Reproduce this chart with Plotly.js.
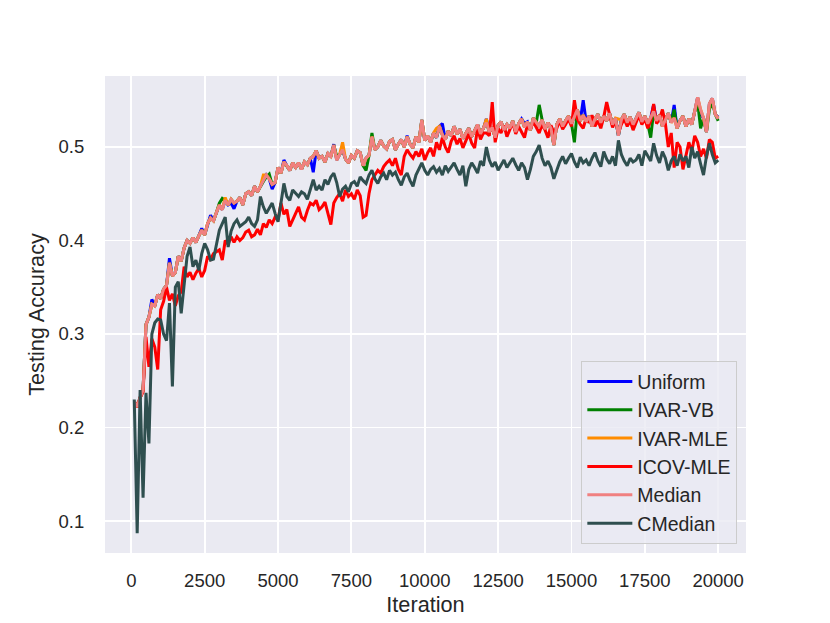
<!DOCTYPE html>
<html>
<head>
<meta charset="utf-8">
<script src="https://cdn.plot.ly/plotly-3.0.1.min.js"></script>
<style>html,body{margin:0;padding:0;background:#fff;}#chart{width:830px;height:623px;}</style>
</head>
<body>
<div id="chart"></div>
<script>
// Iterations: 100, 200, ..., 20000
var iterations = [];
for (var it = 100; it <= 20000; it += 100) iterations.push(it);

var seriesNames = ["Uniform", "IVAR-VB", "IVAR-MLE", "ICOV-MLE", "Median", "CMedian"];
var seriesColors = ["#0000ff", "#008000", "#ff8c00", "#ff0000", "#f08080", "#2f4f4f"];

var uniform = [
0.228,0.222,0.232,0.240,0.310,0.318,0.337,0.330,0.342,0.338,
0.348,0.352,0.381,0.362,0.366,0.383,0.378,0.392,0.400,0.397,
0.403,0.398,0.405,0.413,0.406,0.418,0.427,0.421,0.430,0.438,
0.433,0.443,0.438,0.440,0.434,0.442,0.446,0.438,0.450,0.452,
0.448,0.458,0.452,0.458,0.463,0.470,0.466,0.455,0.462,0.478,
0.472,0.486,0.480,0.475,0.483,0.478,0.483,0.476,0.484,0.481,
0.488,0.473,0.496,0.488,0.490,0.484,0.493,0.490,0.503,0.486,
0.492,0.497,0.487,0.483,0.491,0.488,0.496,0.494,0.480,0.488,
0.491,0.511,0.497,0.500,0.507,0.501,0.498,0.506,0.508,0.497,
0.503,0.508,0.500,0.512,0.503,0.499,0.511,0.505,0.529,0.507,
0.512,0.505,0.515,0.510,0.522,0.525,0.508,0.517,0.512,0.522,
0.514,0.519,0.509,0.515,0.520,0.511,0.518,0.524,0.514,0.520,
0.530,0.516,0.521,0.510,0.523,0.527,0.518,0.524,0.520,0.528,
0.516,0.525,0.530,0.525,0.527,0.518,0.531,0.526,0.522,0.529,
0.519,0.526,0.520,0.502,0.524,0.530,0.522,0.528,0.533,0.525,
0.532,0.540,0.528,0.550,0.527,0.533,0.522,0.530,0.535,0.526,
0.533,0.528,0.536,0.524,0.531,0.512,0.529,0.535,0.526,0.532,
0.524,0.530,0.537,0.527,0.533,0.525,0.531,0.545,0.528,0.534,
0.522,0.529,0.536,0.526,0.545,0.520,0.528,0.533,0.522,0.530,
0.524,0.538,0.553,0.535,0.531,0.516,0.546,0.552,0.535,0.532
];

var ivarVB = [
0.228,0.222,0.232,0.240,0.310,0.318,0.332,0.330,0.342,0.338,
0.348,0.352,0.376,0.362,0.366,0.383,0.378,0.392,0.400,0.397,
0.403,0.398,0.405,0.411,0.406,0.418,0.424,0.421,0.430,0.440,
0.445,0.443,0.438,0.444,0.440,0.442,0.446,0.438,0.450,0.452,
0.448,0.458,0.452,0.458,0.463,0.468,0.471,0.460,0.462,0.478,
0.472,0.484,0.480,0.475,0.483,0.478,0.483,0.476,0.484,0.481,
0.488,0.490,0.496,0.488,0.490,0.484,0.493,0.490,0.502,0.490,
0.492,0.497,0.487,0.483,0.491,0.488,0.496,0.494,0.480,0.475,
0.491,0.515,0.497,0.500,0.507,0.501,0.498,0.506,0.508,0.497,
0.503,0.508,0.500,0.511,0.503,0.499,0.511,0.505,0.529,0.507,
0.512,0.505,0.515,0.510,0.522,0.513,0.508,0.517,0.512,0.522,
0.514,0.519,0.509,0.515,0.520,0.511,0.518,0.524,0.514,0.520,
0.526,0.516,0.521,0.510,0.523,0.527,0.518,0.524,0.520,0.528,
0.516,0.525,0.530,0.521,0.527,0.518,0.531,0.526,0.545,0.529,
0.519,0.526,0.520,0.502,0.524,0.530,0.522,0.528,0.533,0.525,
0.505,0.540,0.528,0.534,0.527,0.533,0.522,0.530,0.535,0.526,
0.533,0.528,0.536,0.524,0.531,0.512,0.529,0.535,0.526,0.532,
0.524,0.530,0.537,0.527,0.533,0.525,0.510,0.538,0.528,0.534,
0.522,0.529,0.536,0.526,0.540,0.520,0.528,0.533,0.522,0.530,
0.524,0.538,0.548,0.520,0.531,0.516,0.540,0.548,0.535,0.528
];

var ivarMLE = [
0.228,0.222,0.232,0.240,0.310,0.318,0.332,0.330,0.342,0.338,
0.348,0.352,0.376,0.362,0.366,0.383,0.378,0.392,0.400,0.397,
0.403,0.398,0.405,0.411,0.406,0.418,0.424,0.421,0.430,0.438,
0.433,0.446,0.438,0.444,0.440,0.442,0.446,0.438,0.450,0.452,
0.448,0.458,0.452,0.458,0.470,0.470,0.466,0.460,0.462,0.478,
0.472,0.484,0.480,0.475,0.483,0.478,0.483,0.476,0.484,0.481,
0.488,0.490,0.496,0.488,0.490,0.484,0.493,0.490,0.502,0.486,
0.492,0.505,0.487,0.483,0.491,0.488,0.496,0.494,0.480,0.488,
0.491,0.511,0.497,0.500,0.507,0.501,0.498,0.506,0.508,0.497,
0.503,0.508,0.500,0.511,0.503,0.499,0.511,0.505,0.529,0.507,
0.512,0.505,0.515,0.520,0.522,0.513,0.508,0.517,0.512,0.522,
0.514,0.519,0.509,0.515,0.520,0.511,0.518,0.524,0.514,0.520,
0.530,0.516,0.521,0.510,0.523,0.527,0.518,0.524,0.520,0.528,
0.516,0.525,0.530,0.521,0.527,0.518,0.531,0.526,0.522,0.529,
0.519,0.526,0.520,0.502,0.524,0.530,0.522,0.528,0.533,0.525,
0.532,0.540,0.528,0.534,0.527,0.533,0.522,0.530,0.535,0.526,
0.533,0.528,0.536,0.524,0.531,0.530,0.529,0.535,0.526,0.532,
0.524,0.530,0.537,0.527,0.533,0.525,0.531,0.538,0.528,0.534,
0.522,0.529,0.536,0.526,0.531,0.520,0.528,0.533,0.522,0.530,
0.524,0.538,0.553,0.540,0.531,0.516,0.546,0.552,0.535,0.531
];

var icovMLE = [
0.228,0.222,0.232,0.238,0.297,0.265,0.295,0.286,0.262,0.326,
0.335,0.350,0.336,0.343,0.330,0.341,0.345,0.372,0.361,0.366,
0.358,0.365,0.370,0.361,0.368,0.383,0.380,0.386,0.388,0.390,
0.379,0.400,0.396,0.404,0.398,0.404,0.400,0.403,0.409,0.411,
0.404,0.406,0.412,0.406,0.418,0.414,0.422,0.418,0.425,0.422,
0.440,0.428,0.433,0.415,0.422,0.430,0.436,0.425,0.422,0.432,
0.440,0.438,0.443,0.433,0.436,0.441,0.428,0.417,0.440,0.446,
0.450,0.442,0.454,0.447,0.450,0.444,0.454,0.448,0.425,0.427,
0.450,0.465,0.470,0.475,0.472,0.479,0.483,0.486,0.480,0.488,
0.476,0.470,0.490,0.497,0.492,0.488,0.495,0.490,0.498,0.486,
0.494,0.499,0.490,0.505,0.497,0.510,0.500,0.494,0.506,0.512,
0.503,0.509,0.499,0.506,0.514,0.504,0.499,0.520,0.508,0.515,
0.515,0.512,0.548,0.505,0.520,0.515,0.523,0.511,0.519,0.526,
0.514,0.522,0.516,0.510,0.524,0.519,0.527,0.521,0.515,0.524,
0.518,0.510,0.523,0.516,0.520,0.528,0.519,0.524,0.530,0.522,
0.550,0.530,0.524,0.520,0.531,0.526,0.534,0.522,0.528,0.520,
0.532,0.548,0.534,0.521,0.528,0.515,0.524,0.530,0.522,0.528,
0.518,0.526,0.534,0.524,0.530,0.520,0.528,0.546,0.525,0.530,
0.540,0.525,0.500,0.515,0.478,0.505,0.500,0.476,0.490,0.505,
0.495,0.512,0.505,0.490,0.498,0.488,0.508,0.505,0.488,0.490
];

var median = [
0.228,0.222,0.232,0.240,0.310,0.318,0.332,0.330,0.342,0.338,
0.348,0.352,0.376,0.362,0.366,0.383,0.378,0.392,0.400,0.397,
0.403,0.398,0.405,0.411,0.406,0.418,0.424,0.421,0.430,0.438,
0.433,0.443,0.438,0.444,0.440,0.442,0.446,0.438,0.450,0.452,
0.448,0.458,0.452,0.458,0.463,0.470,0.466,0.460,0.462,0.478,
0.472,0.484,0.480,0.475,0.483,0.478,0.483,0.476,0.484,0.481,
0.488,0.490,0.496,0.488,0.490,0.484,0.493,0.490,0.502,0.486,
0.492,0.497,0.487,0.483,0.491,0.488,0.496,0.494,0.480,0.488,
0.491,0.511,0.497,0.500,0.507,0.501,0.498,0.506,0.508,0.497,
0.503,0.508,0.500,0.511,0.503,0.499,0.511,0.505,0.529,0.507,
0.512,0.505,0.515,0.510,0.522,0.513,0.508,0.517,0.512,0.522,
0.514,0.519,0.509,0.515,0.520,0.511,0.518,0.524,0.514,0.520,
0.526,0.516,0.521,0.510,0.523,0.527,0.518,0.524,0.520,0.528,
0.516,0.525,0.530,0.521,0.527,0.518,0.531,0.526,0.522,0.529,
0.519,0.526,0.520,0.502,0.524,0.530,0.522,0.528,0.533,0.525,
0.532,0.540,0.528,0.534,0.527,0.533,0.522,0.530,0.535,0.526,
0.533,0.528,0.536,0.524,0.531,0.512,0.529,0.535,0.526,0.532,
0.524,0.530,0.537,0.527,0.533,0.525,0.531,0.538,0.528,0.534,
0.522,0.529,0.536,0.526,0.531,0.520,0.528,0.533,0.522,0.530,
0.524,0.538,0.553,0.540,0.531,0.516,0.546,0.552,0.535,0.530
];

var cmedian = [
0.230,0.087,0.240,0.125,0.237,0.183,0.300,0.312,0.316,0.315,
0.300,0.293,0.333,0.244,0.350,0.356,0.322,0.354,0.383,0.393,
0.372,0.379,0.368,0.386,0.397,0.390,0.379,0.380,0.396,0.411,
0.418,0.425,0.393,0.410,0.418,0.422,0.415,0.418,0.420,0.425,
0.418,0.415,0.422,0.447,0.436,0.429,0.434,0.440,0.429,0.420,
0.440,0.461,0.447,0.443,0.454,0.450,0.447,0.452,0.450,0.444,
0.456,0.465,0.454,0.458,0.454,0.465,0.460,0.468,0.472,0.462,
0.447,0.455,0.458,0.452,0.461,0.463,0.458,0.468,0.464,0.461,
0.470,0.475,0.466,0.461,0.468,0.472,0.465,0.475,0.470,0.473,
0.465,0.459,0.468,0.472,0.464,0.458,0.470,0.477,0.483,0.475,
0.470,0.476,0.479,0.473,0.477,0.470,0.480,0.474,0.479,0.483,
0.476,0.470,0.480,0.458,0.476,0.483,0.478,0.472,0.485,0.480,
0.500,0.486,0.479,0.484,0.475,0.480,0.486,0.478,0.483,0.488,
0.481,0.475,0.483,0.478,0.465,0.476,0.490,0.495,0.502,0.488,
0.480,0.485,0.478,0.466,0.475,0.484,0.490,0.482,0.488,0.493,
0.484,0.478,0.489,0.483,0.486,0.480,0.488,0.494,0.485,0.479,
0.495,0.487,0.482,0.490,0.480,0.507,0.492,0.485,0.480,0.488,
0.484,0.486,0.492,0.480,0.496,0.490,0.485,0.504,0.491,0.483,
0.495,0.488,0.475,0.485,0.490,0.480,0.492,0.485,0.490,0.478,
0.500,0.488,0.495,0.482,0.470,0.490,0.504,0.492,0.483,0.486
];

var xTickVals = [0, 2500, 5000, 7500, 10000, 12500, 15000, 17500, 20000];
var yTickVals = [0.1, 0.2, 0.3, 0.4, 0.5];
var yTickText = ["0.1", "0.2", "0.3", "0.4", "0.5"];

var allSeries = [uniform, ivarVB, ivarMLE, icovMLE, median, cmedian];
var traces = allSeries.map(function (vals, i) {
  return {
    type: "scatter",
    mode: "lines",
    name: seriesNames[i],
    legendgroup: "g" + i,
    x: iterations,
    y: vals,
    line: { color: seriesColors[i], width: 3 }
  };
});

var fontFam = "Liberation Sans, Arial, sans-serif";
var layout = {
  width: 830,
  height: 623,
  margin: { l: 105, r: 84, t: 76, b: 70, pad: 0 },
  paper_bgcolor: "#ffffff",
  plot_bgcolor: "#eaeaf2",
  font: { family: fontFam, color: "#262626", size: 18.5 },
  showlegend: true,
  xaxis: {
    range: [-897, 20948],
    tickvals: xTickVals,
    ticktext: xTickVals.map(String),
    showgrid: true,
    gridcolor: "#ffffff",
    gridwidth: 1.8,
    zeroline: false,
    showline: false,
    ticks: "outside",
    ticklen: 11,
    tickcolor: "rgba(0,0,0,0)",
    tickfont: { family: fontFam, size: 18.5, color: "#262626" },
    title: { text: "Iteration", font: { family: fontFam, size: 21.7, color: "#262626" }, standoff: 6 },
    automargin: false
  },
  yaxis: {
    range: [0.0658, 0.5759],
    tickvals: yTickVals,
    ticktext: yTickText,
    showgrid: true,
    gridcolor: "#ffffff",
    gridwidth: 1.8,
    zeroline: false,
    showline: false,
    ticks: "outside",
    ticklen: 16,
    tickcolor: "rgba(0,0,0,0)",
    tickfont: { family: fontFam, size: 18.5, color: "#262626" },
    title: { text: "Testing Accuracy", font: { family: fontFam, size: 21.7, color: "#262626" }, standoff: 7 },
    automargin: false
  },
  legend: {
    x: 0.986,
    y: 0.019,
    xanchor: "right",
    yanchor: "bottom",
    bgcolor: "rgba(234,234,242,0.8)",
    bordercolor: "#cccccc",
    borderwidth: 1.3,
    traceorder: "grouped",
    tracegroupgap: 0,
    itemwidth: 45,
    entrywidth: 165,
    font: { family: fontFam, size: 19.5, color: "#262626" }
  }
};

Plotly.newPlot("chart", traces, layout, { displayModeBar: false, staticPlot: true });
</script>
</body>
</html>
